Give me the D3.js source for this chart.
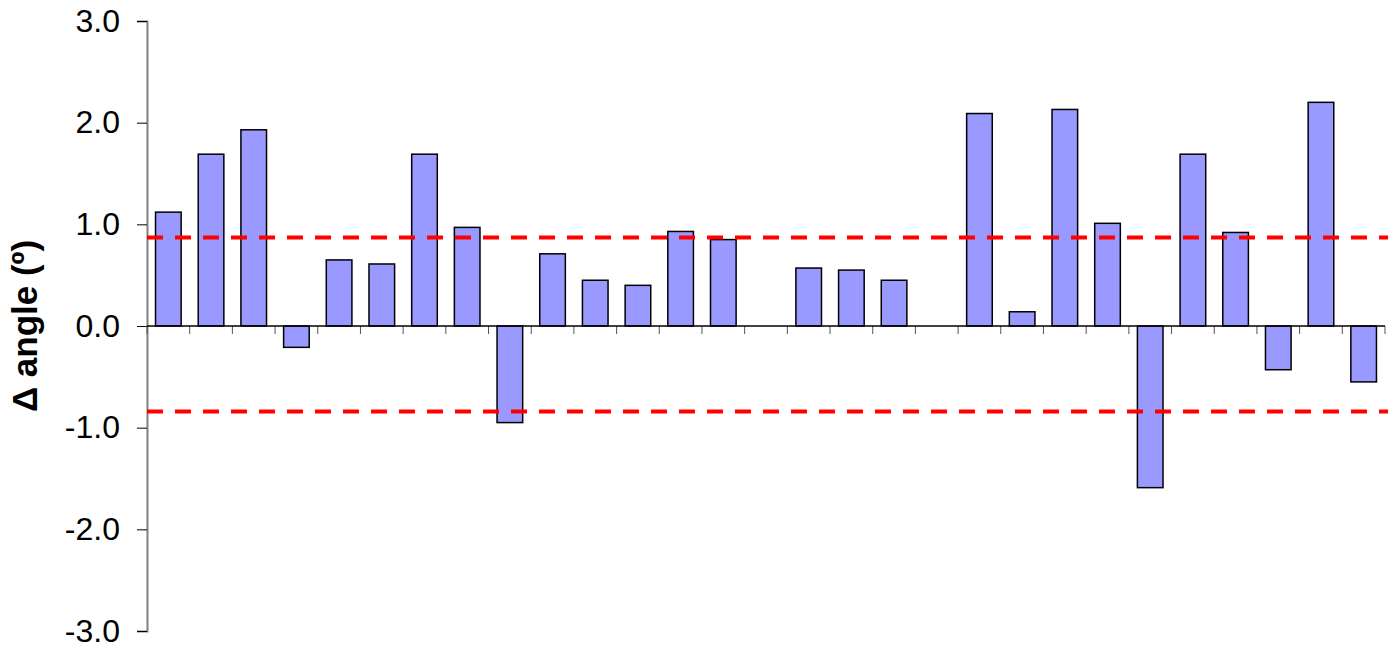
<!DOCTYPE html>
<html>
<head>
<meta charset="utf-8">
<script src="https://cdn.jsdelivr.net/npm/d3@7"></script>
<style>
  body { margin: 0; background: #fff; }
  text { font-family: Arial, "Liberation Sans", sans-serif; }
</style>
</head>
<body>
<div id="chart"></div>
<script>
// one bar per sample, null = no value shown
const categories = d3.range(1, 30).map(String);
const delta_angle = [1.12, 1.69, 1.93, -0.21, 0.65, 0.61, 1.69, 0.97, -0.95, 0.71,
                     0.45, 0.40, 0.93, 0.85, null, 0.57, 0.55, 0.45, null, 2.09,
                     0.14, 2.13, 1.01, -1.59, 1.69, 0.92, -0.43, 2.20, -0.55];
const y_ticks = [-3, -2, -1, 0, 1, 2, 3];
const limit_lines = [0.87, -0.84];

const width = 1388, height = 648;
const plot_left = 147, plot_right = 1385, plot_top = 21, plot_bottom = 631;

let svg = d3.select("#chart")
    .append("svg")
    .attr("width", width)
    .attr("height", height);

let xScale = d3.scaleBand()
    .domain(categories)
    .range([plot_left, plot_right])
    .paddingInner(0.4)
    .paddingOuter(0.2);

let yScale = d3.scaleLinear()
    .domain([-3, 3])
    .range([plot_bottom, plot_top]);

// y axis
let y_axis = svg.append("g")
    .attr("transform", "translate(" + plot_left + ",0)")
    .call(d3.axisLeft(yScale)
        .tickValues(y_ticks)
        .tickSize(10)
        .tickPadding(17)
        .tickFormat(function(d) { return d.toFixed(1); }));   // plain hyphen minus

y_axis.select(".domain").attr("stroke", "#808080").attr("stroke-width", 2);
y_axis.selectAll(".tick line").attr("stroke", "#000").attr("stroke-width", 1);
y_axis.selectAll(".tick text")
    .attr("font-size", "32px")
    .attr("fill", "#000")
    .style("font-family", "Arial, 'Liberation Sans', sans-serif");

// category ticks hanging below the zero line
let boundaries = categories.map(function(c) { return xScale(c) - xScale.step() * 0.2; });
boundaries.push(plot_right);
svg.selectAll(".cat_tick")
    .data(boundaries)
    .enter()
    .append("line")
    .attr("class", "cat_tick")
    .attr("x1", function(d) { return d; })
    .attr("x2", function(d) { return d; })
    .attr("y1", yScale(0))
    .attr("y2", yScale(0) + 8)
    .attr("stroke", "#555")
    .attr("stroke-width", 1);

// bars
let bar_data = categories.map(function(c, i) { return { name: c, value: delta_angle[i] }; })
    .filter(function(d) { return d.value !== null; });

svg.selectAll(".bar")
    .data(bar_data)
    .enter()
    .append("rect")
    .attr("class", "bar")
    .attr("x", function(d) { return xScale(d.name); })
    .attr("y", function(d) { return yScale(Math.max(0, d.value)); })
    .attr("width", xScale.bandwidth())
    .attr("height", function(d) { return Math.abs(yScale(d.value) - yScale(0)); })
    .attr("fill", "#9999ff")
    .attr("stroke", "#000")
    .attr("stroke-width", 1.5);

// zero line
svg.append("line")
    .attr("x1", plot_left)
    .attr("x2", plot_right)
    .attr("y1", yScale(0))
    .attr("y2", yScale(0))
    .attr("stroke", "#000")
    .attr("stroke-width", 1.5);

// red dashed limits
svg.selectAll(".limit")
    .data(limit_lines)
    .enter()
    .append("line")
    .attr("class", "limit")
    .attr("x1", plot_left)
    .attr("x2", width)
    .attr("y1", function(d) { return yScale(d); })
    .attr("y2", function(d) { return yScale(d); })
    .attr("stroke", "#ff0000")
    .attr("stroke-width", 4)
    .attr("stroke-dasharray", "16,12");

// y label
svg.append("text")
    .attr("transform", "translate(37,326) rotate(-90)")
    .attr("text-anchor", "middle")
    .attr("font-size", "35px")
    .attr("font-weight", "bold")
    .attr("fill", "#000")
    .text("Δ angle (º)");
</script>
</body>
</html>
